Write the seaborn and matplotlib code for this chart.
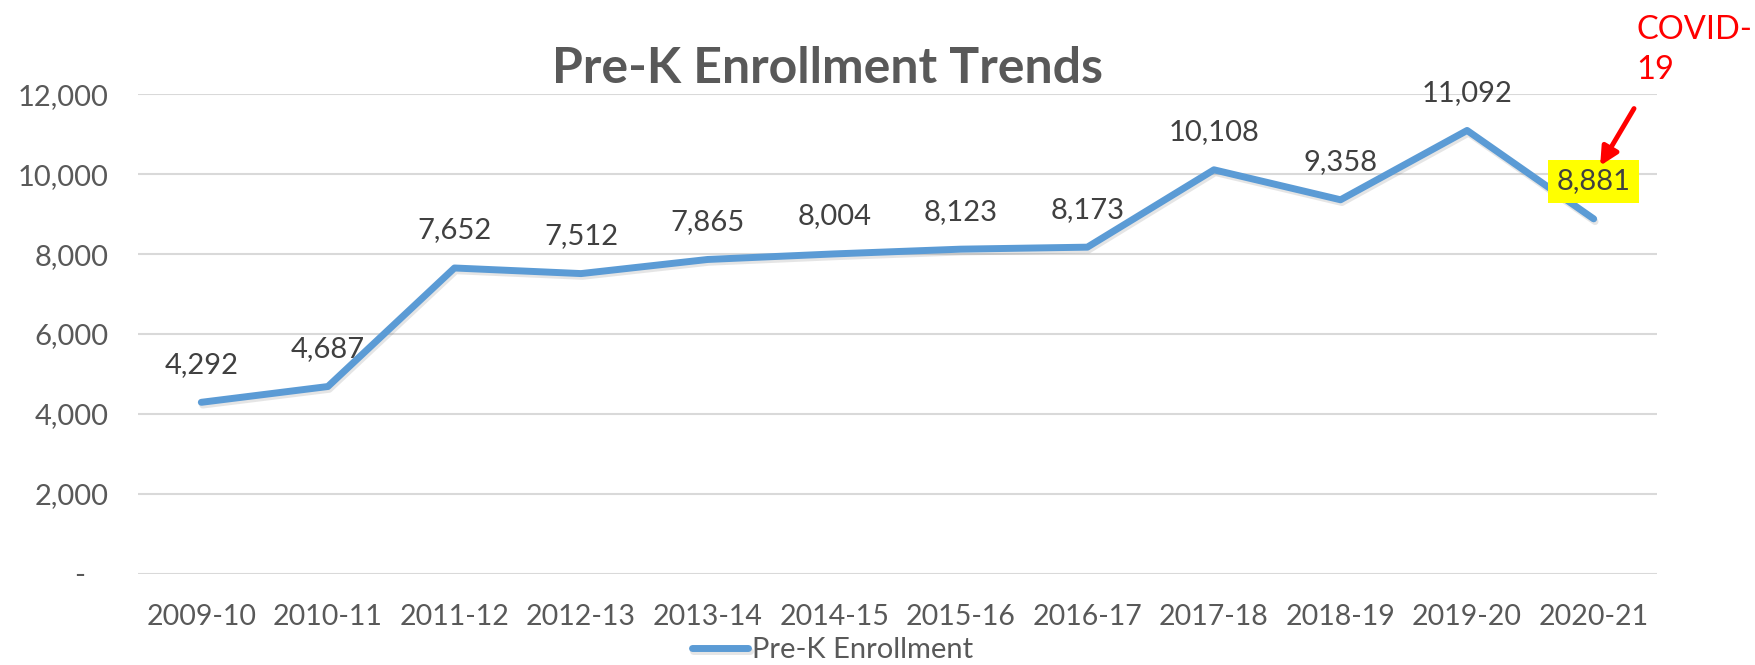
import pandas as pd
import matplotlib.pyplot as plt
import matplotlib.patheffects as pe
from matplotlib.ticker import FuncFormatter
import seaborn as sns

# chart data
years = ['2009-10', '2010-11', '2011-12', '2012-13', '2013-14', '2014-15',
         '2015-16', '2016-17', '2017-18', '2018-19', '2019-20', '2020-21']
enrollment = [4292, 4687, 7652, 7512, 7865, 8004, 8123, 8173, 10108, 9358, 11092, 8881]

df = pd.DataFrame({'year': years, 'enrollment': enrollment})

sns.set_theme(style='white')
plt.rcParams['font.family'] = ['Lato', 'DejaVu Sans']

fig = plt.figure(figsize=(17.56, 6.65), dpi=100)
ax = fig.add_axes([0.0786, 0.137, 0.865, 0.7214])

sns.lineplot(data=df, x='year', y='enrollment', sort=False, ax=ax,
             color='#5B9BD5', linewidth=5, label='Pre-K Enrollment',
             solid_capstyle='round', solid_joinstyle='round',
             path_effects=[pe.SimpleLineShadow(offset=(1, -2), alpha=0.15, shadow_color='#555555'),
                           pe.Normal()])

ax.set_ylim(0, 12000)
ax.set_xlim(-0.5, len(years) - 0.5)
ax.set_yticks(range(0, 12001, 2000))
ax.yaxis.set_major_formatter(FuncFormatter(lambda v, p: '-   ' if v == 0 else f'{v:,.0f}'))
ax.grid(axis='y', color='#D9D9D9', linewidth=1.5)
ax.grid(axis='x', visible=False)
ax.set_axisbelow(True)
for s in ax.spines.values():
    s.set_visible(False)
ax.tick_params(axis='y', length=0, pad=21, labelsize=21, labelcolor='#595959')
ax.tick_params(axis='x', length=0, pad=22, labelsize=20.5, labelcolor='#595959')
ax.set_xlabel('')
ax.set_ylabel('')

# data labels
for i, v in enumerate(enrollment):
    kw = {}
    if i == len(enrollment) - 1:
        kw['bbox'] = dict(boxstyle='square,pad=0.3', facecolor='#FFFF00', edgecolor='none')
    ax.annotate(f'{v:,}', (i, v), xytext=(0, 27), textcoords='offset points',
                ha='center', va='center', fontsize=21, color='#404040', **kw)

# title
fig.text(0.4715, 0.875, 'Pre-K Enrollment Trends', ha='center', va='baseline',
         fontsize=36, fontweight='bold', color='#595959')

# COVID annotation
fig.text(0.932, 0.978, 'COVID-\n19', ha='left', va='top', fontsize=23.5,
         color='#FF0000', linespacing=1.45)
ax.annotate('', xy=(len(years) - 1 + 0.04, 10150), xytext=(len(years) - 1 + 0.33, 11700),
            arrowprops=dict(arrowstyle='-|>,head_length=0.9,head_width=0.45',
                            color='#FF0000', lw=3.5), annotation_clip=False)

# legend
ax.get_legend().remove()
h, l = ax.get_legend_handles_labels()
fig.legend(h, l, loc='center', bbox_to_anchor=(0.474, 0.022), frameon=False,
           fontsize=21, handlelength=1.95, handletextpad=0.12, labelcolor='#595959')

fig.savefig('out.png', dpi=100)
